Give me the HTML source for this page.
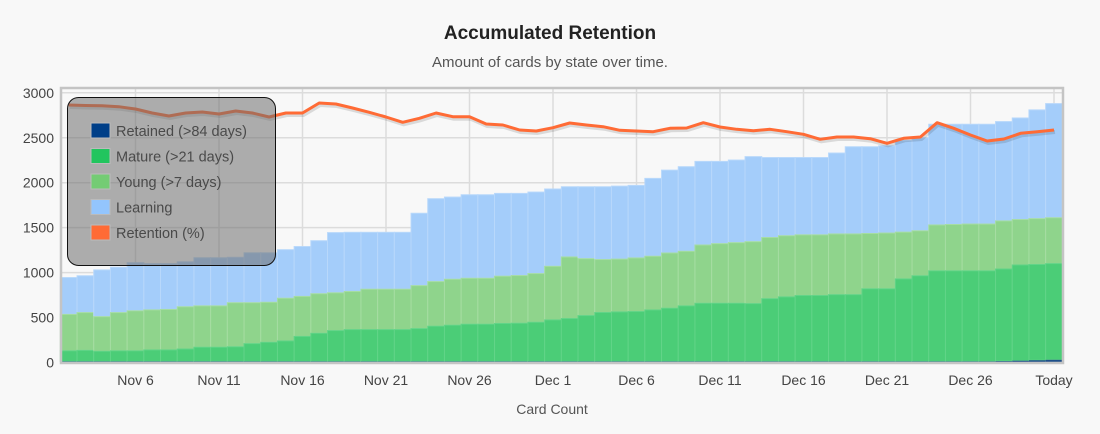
<!DOCTYPE html>
<html><head><meta charset="utf-8"><style>
html,body{margin:0;padding:0;background:#f8f8f8;}
body{width:1100px;height:434px;overflow:hidden;font-family:"Liberation Sans",sans-serif;}
svg{display:block;}
</style></head><body>
<svg id="s" width="1100" height="434" xmlns="http://www.w3.org/2000/svg" font-family="Liberation Sans, sans-serif"></svg>
<script>
const T=[945,965,1030,1060,1110,1100,1100,1120,1165,1165,1170,1220,1220,1255,1290,1355,1445,1448,1448,1448,1448,1660,1822,1840,1866,1866,1881,1881,1896,1930,1955,1955,1955,1962,1970,2048,2140,2178,2237,2237,2252,2290,2280,2280,2280,2280,2330,2400,2400,2410,2470,2500,2650,2650,2650,2650,2680,2720,2810,2880];
const Y=[535,555,510,555,575,585,590,620,630,630,665,665,670,715,735,765,775,790,815,815,815,855,900,926,937,937,960,967,989,1070,1174,1155,1145,1150,1163,1182,1218,1237,1307,1322,1333,1344,1390,1410,1420,1420,1430,1430,1435,1440,1450,1465,1530,1535,1540,1540,1575,1590,1600,1610];
const M=[130,135,125,130,130,140,140,150,170,170,175,210,225,240,290,325,355,366,366,366,366,377,404,415,426,426,434,437,448,474,489,522,556,563,567,585,604,630,659,659,659,655,710,730,745,745,755,755,820,820,930,965,1020,1020,1020,1020,1040,1085,1090,1100];
const L=[105,105.5,105.7,106.7,109,113,116,113,112,114,111,113,117,113,113,103,104,108,112.3,117,122.3,118.3,113,116.7,116.7,124,125,130,131,127.7,123,125,126.7,130.3,131,131.7,128.3,128,122.7,127,129.3,130.7,129.3,131.7,134.3,139.3,137,137,138.7,143.3,138.3,137,122.7,128.3,135,141,139,133.3,131.7,130];
const y0=362.5,k=0.0899;const vy=v=>y0-v*k;
let h='';
h+='<text x="550" y="39" text-anchor="middle" font-size="19" font-weight="bold" fill="#222">Accumulated Retention</text>';
h+='<text x="550" y="67" text-anchor="middle" font-size="15" fill="#555">Amount of cards by state over time.</text>';
for(let v=0;v<=3000;v+=500){const y=vy(v);h+=`<line x1="61" x2="1063" y1="${y}" y2="${y}" stroke="#dcdcdc" stroke-width="1.5"/>`;h+=`<text x="54" y="${y+5}" text-anchor="end" font-size="14" fill="#444">${v}</text>`;}
const ticks=[[4,'Nov 6'],[9,'Nov 11'],[14,'Nov 16'],[19,'Nov 21'],[24,'Nov 26'],[29,'Dec 1'],[34,'Dec 6'],[39,'Dec 11'],[44,'Dec 16'],[49,'Dec 21'],[54,'Dec 26'],[59,'Today']];
const cx=i=>68.7+16.7*i;
for(const [i,t] of ticks){const x=cx(i);h+=`<line x1="${x}" x2="${x}" y1="89" y2="363" stroke="#dcdcdc" stroke-width="1.5"/>`;h+=`<text x="${x}" y="385" text-anchor="middle" font-size="14" fill="#444">${t}</text>`;}
h+='<text x="552" y="414" text-anchor="middle" font-size="14" fill="#555">Card Count</text>';
for(let i=0;i<60;i++){const x=cx(i)-8.35,w=16.7;
 const r=i>=56?[15,20,25,30][i-56]:12;
 h+=`<rect x="${x}" y="${vy(T[i])}" width="${w}" height="${vy(Y[i])-vy(T[i])}" fill="#a4cdfa" stroke="#b8d8fb" stroke-width="1"/>`;
 h+=`<rect x="${x}" y="${vy(Y[i])}" width="${w}" height="${vy(M[i])-vy(Y[i])}" fill="#8fd48c" stroke="#a6dda2" stroke-width="1"/>`;
 h+=`<rect x="${x}" y="${vy(M[i])}" width="${w}" height="${vy(r)-vy(M[i])}" fill="#4bcd77" stroke="#62d488" stroke-width="1"/>`;
 h+=`<rect x="${x}" y="${vy(r)}" width="${w}" height="${y0-vy(r)}" fill="#1f4f8a"/>`;}
let p=L.map((y,i)=>`${cx(i).toFixed(1)},${y}`).join(' ');
h+=`<polyline points="${p}" fill="none" stroke="#000" stroke-opacity="0.12" stroke-width="4" transform="translate(1,2)"/>`;
h+=`<polyline points="${p}" fill="none" stroke="#ff6b35" stroke-width="3" stroke-linejoin="round"/>`;
h+='<rect x="61" y="88" width="1002" height="275" fill="none" stroke="#c4c4c4" stroke-width="2.5"/>';
h+='<rect x="67.5" y="97.5" width="208" height="168" rx="11" fill="rgb(110,110,110)" fill-opacity="0.55" stroke="#111" stroke-width="1"/>';
const lg=[['Retained (>84 days)','#003f88'],['Mature (>21 days)','#22c55e'],['Young (>7 days)','#74cc74'],['Learning','#93c5fd'],['Retention (%)','#ff6b35']];
lg.forEach((e,j)=>{const y=123+j*25.5;h+=`<rect x="91" y="${y}" width="19" height="15" fill="${e[1]}" stroke="#bbb" stroke-width="1"/>`;h+=`<text x="116" y="${y+13}" font-size="14.5" fill="#4a4a4a">${e[0].replace('>','&gt;')}</text>`;});
document.getElementById('s').innerHTML=h;
</script>
</body></html>
